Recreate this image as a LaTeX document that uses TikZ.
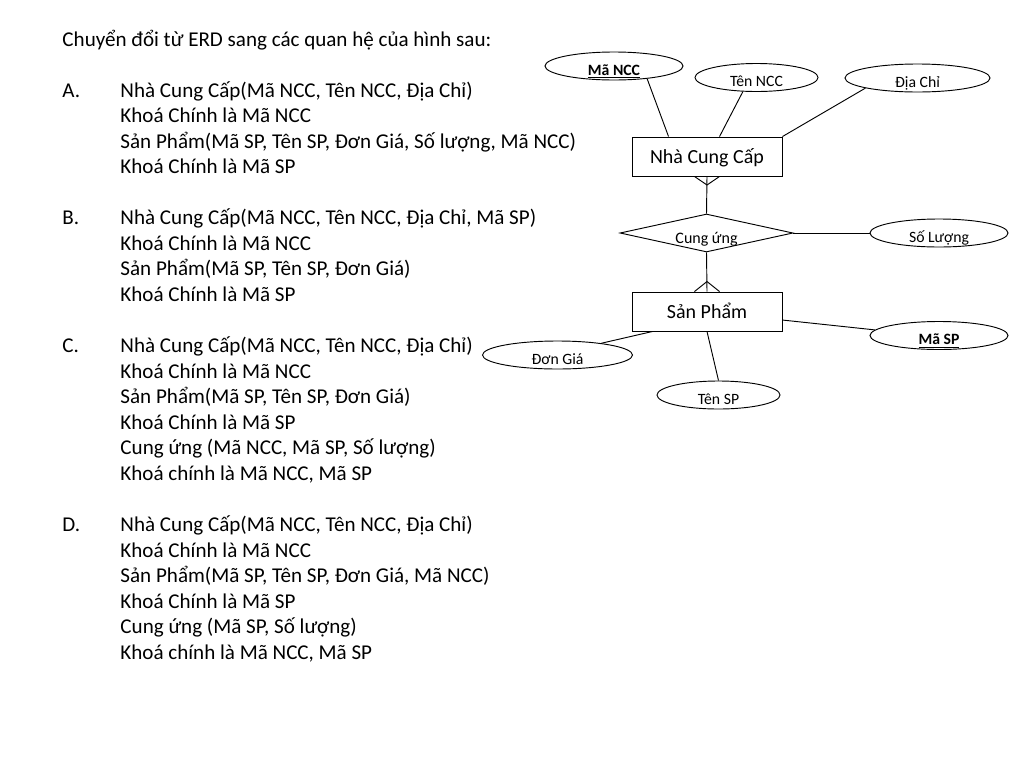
\documentclass[tikz,border=0pt]{standalone}
\usepackage{fontspec}
\setmainfont{Carlito}
\usepackage{tikz}
\usetikzlibrary{shapes.geometric}

\tikzset{
  txt/.style={font=\fontsize{15.8}{19.16}\selectfont, inner sep=0pt, anchor=base west, align=left},
  entity/.style={draw, rectangle, minimum width=112.5pt, minimum height=29.25pt, inner sep=0pt,
    font=\fontsize{15}{17}\selectfont, text height=10pt, text depth=0pt},
  attr/.style={draw, ellipse, minimum height=21pt, inner sep=0pt,
    font=\fontsize{11.8}{13}\selectfont, text height=14.2pt, text depth=0pt},
  rel/.style={draw, diamond, aspect=4.55, minimum width=129.75pt, minimum height=28.5pt, inner sep=0pt,
    font=\fontsize{12}{13}\selectfont, text height=16pt, text depth=0pt}
}

\begin{document}
\begin{tikzpicture}[x=0.75pt, y=-0.75pt, line width=0.7pt]
		\fill[white] (0,0) rectangle (1024,768);
		% cau hoi (base = dong cuoi)
		\node[txt] (title) at (62,46) {Chuyển đổi từ ERD sang các quan hệ của hình sau:};
		\node[txt] (la) at (62,97.1) {A.};
		\node[txt] (pa) at (120,173.8) {Nhà Cung Cấp(Mã NCC, Tên NCC, Địa Chỉ)\\Khoá Chính là Mã NCC\\Sản Phẩm(Mã SP, Tên SP, Đơn Giá, Số lượng, Mã NCC)\\Khoá Chính là Mã SP};
		\node[txt] (lb) at (62,224.9) {B.};
		\node[txt] (pb) at (120,301.5) {Nhà Cung Cấp(Mã NCC, Tên NCC, Địa Chỉ, Mã SP)\\Khoá Chính là Mã NCC\\Sản Phẩm(Mã SP, Tên SP, Đơn Giá)\\Khoá Chính là Mã SP};
		\node[txt] (lc) at (62,352.6) {C.};
		\node[txt] (pc) at (120,480.4) {Nhà Cung Cấp(Mã NCC, Tên NCC, Địa Chỉ)\\Khoá Chính là Mã NCC\\Sản Phẩm(Mã SP, Tên SP, Đơn Giá)\\Khoá Chính là Mã SP\\Cung ứng (Mã NCC, Mã SP, Số lượng)\\Khoá chính là Mã NCC, Mã SP};
		\node[txt] (ld) at (62,531.5) {D.};
		\node[txt] (pd) at (120,659.2) {Nhà Cung Cấp(Mã NCC, Tên NCC, Địa Chỉ)\\Khoá Chính là Mã NCC\\Sản Phẩm(Mã SP, Tên SP, Đơn Giá, Mã NCC)\\Khoá Chính là Mã SP\\Cung ứng (Mã SP, Số lượng)\\Khoá chính là Mã NCC, Mã SP};
		% so do ERD
		\node[entity] (ncc) at (707,156.5) {Nhà Cung Cấp};
		\node[rel] (cu) at (706.5,233) {Cung ứng};
		\node[entity] (sp) at (707,311.5) {Sản Phẩm};
		\node[attr, minimum width=103.5pt] (mancc) at (614,66) {\underline{\textbf{Mã NCC}}};
		\node[attr, minimum width=92.25pt] (tenncc) at (756.5,77.5) {Tên NCC};
		\node[attr, minimum width=108.75pt] (diachi) at (917.5,78) {Địa Chỉ};
		\node[attr, minimum width=103.5pt] (soluong) at (939,233) {Số Lượng};
		\node[attr, minimum width=103.5pt] (masp) at (939,335.5) {\underline{\textbf{Mã SP}}};
		\node[attr, minimum width=112.5pt] (dongia) at (557.5,355) {Đơn Giá};
		\node[attr, minimum width=92.25pt] (tensp) at (718.5,395) {Tên SP};
		% thuoc tinh
		\draw (mancc.-21) -- ([xshift=27.75pt]ncc.north west);
		\draw (tenncc.-134) -- ([xshift=66pt]ncc.north west);
		\draw (diachi.-169) -- (ncc.north east);
		\draw (cu.east) -- (soluong.west);
		\draw ([yshift=-6.4pt]sp.east) -- (masp.175);
		\draw ([xshift=15.75pt]sp.south west) -- (dongia.15);
		\draw (sp.south) -- (tensp.north);
		% lien ket
		\draw (ncc.south) -- (cu.north);
		\draw ([xshift=-9.4pt]ncc.south) -- ([yshift=-6.4pt]ncc.south) -- ([xshift=9.4pt]ncc.south);
		\draw (cu.south) -- (sp.north);
		\draw ([xshift=-9.4pt]sp.north) -- ([yshift=7.5pt]sp.north) -- ([xshift=9.4pt]sp.north);
	\end{tikzpicture}
\end{document}
